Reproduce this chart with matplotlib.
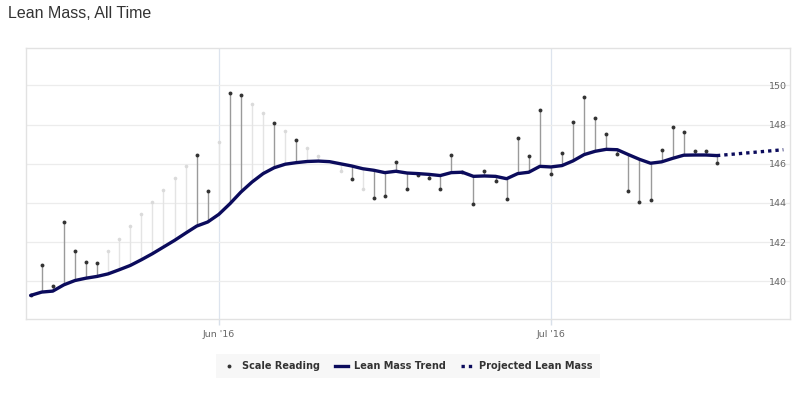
import numpy as np
import pandas as pd
import matplotlib
matplotlib.use("Agg")
import matplotlib.pyplot as plt
import matplotlib.dates as mdates
from matplotlib.lines import Line2D

# daily data, starting 15 May 2016
start_date = "2016-05-15"
scale_reading = [139.28, 140.83, 139.77, 143.03, 141.56, 141.01, 140.95, 141.56, 142.17, 142.80,
                 143.42, 144.03, 144.65, 145.26, 145.87, 146.45, 144.63, 147.12, 149.62, 149.52,
                 149.08, 148.60, 148.07, 147.68, 147.24, 146.83, 146.42, np.nan, 145.64, 145.23,
                 144.73, 144.25, 144.34, 146.08, 144.73, 145.45, 145.28, 144.73, 146.47, 145.60,
                 143.96, 145.62, 145.12, 144.19, 147.31, 146.42, 148.76, 145.46, 146.54, 148.16,
                 149.42, 148.35, 147.51, 146.52, 144.63, 144.07, 144.15, 146.71, 147.89, 147.60,
                 146.64, 146.68, 146.04]
lean_trend = [139.28, 139.45, 139.50, 139.82, 140.04, 140.16, 140.25, 140.38, 140.59, 140.81,
              141.10, 141.41, 141.75, 142.09, 142.46, 142.82, 143.03, 143.42, 143.96, 144.56,
              145.07, 145.50, 145.80, 145.98, 146.06, 146.12, 146.14, 146.11, 146.00, 145.89,
              145.75, 145.67, 145.55, 145.62, 145.53, 145.50, 145.46, 145.40, 145.55, 145.57,
              145.36, 145.38, 145.36, 145.24, 145.50, 145.57, 145.87, 145.84, 145.91, 146.15,
              146.47, 146.64, 146.74, 146.72, 146.47, 146.23, 146.03, 146.10, 146.28, 146.44,
              146.45, 146.45, 146.42]
# readings drawn faded (estimated days)
faded_days = [7, 8, 9, 10, 11, 12, 13, 14, 17, 20, 21, 23, 25, 26, 28, 30]
# projection from last trend point
proj_day_offsets = [62, 68]
proj_values = [146.42, 146.72]
y_ticks = [140, 142, 144, 146, 148, 150]
x_ticks = ["2016-06-01", "2016-07-01"]
x_tick_labels = ["Jun '16", "Jul '16"]

dates = pd.date_range(start_date, periods=len(lean_trend), freq="D")
proj_dates = pd.to_datetime(start_date) + pd.to_timedelta(proj_day_offsets, unit="D")
reading = np.array(scale_reading)
trend = np.array(lean_trend)
faded = np.isin(np.arange(len(dates)), faded_days)
solid = ~faded & ~np.isnan(reading)

navy = "#0b0b5c"

fig = plt.figure(figsize=(8.07, 3.94), dpi=100)
ax = fig.add_axes([26 / 807, 1 - 319.3 / 394, (790 - 26) / 807, (319.3 - 47.5) / 394])

# stems from trend to reading
ax.vlines(dates[faded], trend[faded], reading[faded], color="#e4e4e4", lw=1, zorder=2)
ax.vlines(dates[solid], trend[solid], reading[solid], color="#9a9a9a", lw=1, zorder=2)
ax.plot(dates[faded], reading[faded], "o", color="#dadada", ms=2.6, mec="none", zorder=3)
ax.plot(dates[solid], reading[solid], "o", color="#333333", ms=2.8, mec="none", zorder=4)

ax.plot(dates, trend, color=navy, lw=2.4, solid_capstyle="round", zorder=5)
ax.plot(proj_dates, proj_values, color=navy, lw=2.4, linestyle=(0, (1, 1.2)), zorder=5)

# axes
x0 = pd.to_datetime(start_date)
ax.set_xlim(x0 - pd.Timedelta(days=0.42), x0 + pd.Timedelta(days=68.6))
ax.set_ylim(138.06, 151.94)
ax.set_xticks(pd.to_datetime(x_ticks))
ax.set_xticklabels(x_tick_labels)
ax.set_yticks(y_ticks)
ax.yaxis.tick_right()
ax.set_yticklabels([str(v) for v in y_ticks])
for lbl in ax.get_yticklabels():
    lbl.set_horizontalalignment("right")
ax.tick_params(axis="y", length=0, pad=-2.4, labelsize=6.8, labelcolor="#666666")
ax.tick_params(axis="x", length=4, width=1, color="#d8e0ea", pad=3.5, labelsize=6.8, labelcolor="#666666")

ax.grid(axis="y", color="#ececec", lw=0.9, zorder=0)
ax.grid(axis="x", color="#dde4ee", lw=0.9, zorder=0)
ax.set_axisbelow(True)
for s in ax.spines.values():
    s.set_color("#e2e2e2")
    s.set_linewidth(1)

fig.text(8 / 807, 1 - 17.5 / 394, "Lean Mass, All Time", fontsize=11.5, family="Liberation Sans",
         color="#333333", va="baseline", ha="left")

handles = [
    Line2D([], [], color="#333333", marker="o", ms=2.8, lw=0, mec="none"),
    Line2D([], [], color=navy, lw=2.4),
    Line2D([], [], color=navy, lw=2.4, linestyle=(0, (1, 1.2))),
]
leg = fig.legend(handles, ["Scale Reading", "Lean Mass Trend", "Projected Lean Mass"],
                 loc="center", bbox_to_anchor=(408 / 807, 1 - 366 / 394), ncol=3,
                 frameon=True, fancybox=False, handlelength=1.3, handletextpad=0.6,
                 columnspacing=1.6, borderpad=0.75,
                 prop={"weight": "bold", "size": 7})
leg.get_frame().set_facecolor("#f5f5f5")
leg.get_frame().set_edgecolor("none")
for t in leg.get_texts():
    t.set_color("#333333")

fig.savefig("out.png", dpi=100)
